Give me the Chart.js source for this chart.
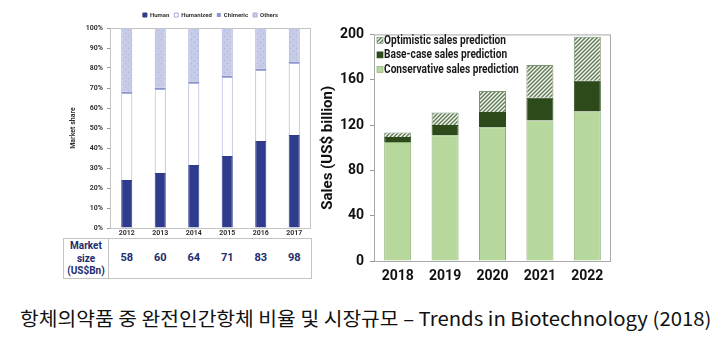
<!DOCTYPE html>
<html>
<head>
<meta charset="utf-8">
<script src="https://cdn.jsdelivr.net/npm/chart.js@4.4.1/dist/chart.umd.min.js"></script>
<style>
  body { margin: 0; background: #fff; }
  #wrap { position: relative; width: 727px; height: 350px; overflow: hidden; }
  #share { position: absolute; left: 55px; top: 5px; }
  #sales { position: absolute; left: 315px; top: 20px; }
  #tbl { position: absolute; left: 63px; top: 238px; width: 249px; height: 41px;
         border: 1px solid #c4c4c4; box-sizing: border-box; }
  #tblHead { position: absolute; left: 0; top: 0; width: 45px; height: 39px;
             border-right: 1px solid #c4c4c4; text-align: center;
             font: bold 10px Roboto, sans-serif;
             color: #1d2c6e; line-height: 12.5px; padding-top: 1px; box-sizing: border-box; }
  .val { position: absolute; top: 12px; width: 30px; margin-left: -15px; text-align: center;
         font: bold 11px Roboto, sans-serif; color: #1d2c6e; }
  #caption { position: absolute; left: 20px; top: 304px; white-space: nowrap;
             font-family: "Noto Sans CJK KR", sans-serif; font-size: 19px; color: #111;
             transform-origin: left top; }
</style>
</head>
<body>
<div id="wrap">
  <div id="tbl"><div id="tblHead">Market<br>size<br>(US$Bn)</div></div>
  <canvas id="share" width="262" height="235"></canvas>
  <canvas id="sales" width="300" height="270"></canvas>
  <div id="caption">항체의약품 중 완전인간항체 비율 및 시장규모 – Trends in Biotechnology (2018)</div>
</div>
<script>
// left chart: market share by antibody type
var shareYears = ['2012', '2013', '2014', '2015', '2016', '2017'];
var human = [24, 27.5, 31.5, 36, 43.5, 46.5];
var humanized = [43.5, 42, 41, 39.5, 35.5, 36];
var chimeric = [0.6, 0.6, 0.6, 0.6, 0.6, 0.6];
var others = [31.9, 29.9, 26.9, 23.9, 20.4, 16.9];
var marketSize = [58, 60, 64, 71, 83, 98];
var shareTicks = ['0%', '10%', '20%', '30%', '40%', '50%', '60%', '70%', '80%', '90%', '100%'];

// right chart: sales forecast (stack increments, US$ billion)
var salesYears = ['2018', '2019', '2020', '2021', '2022'];
var conservative = [105, 111, 118, 124, 132];
var baseCase = [4.5, 9, 13.5, 20, 27];
var optimistic = [4, 11, 18.5, 29, 39];

function makePattern(bg, fg, kind) {
  var n = kind === 'hatch' ? 4 : 6;
  var c = document.createElement('canvas');
  c.width = n; c.height = n;
  var x = c.getContext('2d');
  x.fillStyle = bg;
  x.fillRect(0, 0, n, n);
  x.strokeStyle = fg;
  x.fillStyle = fg;
  if (kind === 'hatch') {
    x.lineWidth = 1.4;
    x.beginPath();
    x.moveTo(-1, n + 1); x.lineTo(n + 1, -1);
    x.moveTo(-1, 1); x.lineTo(1, -1);
    x.moveTo(n - 1, n + 1); x.lineTo(n + 1, n - 1);
    x.stroke();
  } else {
    x.fillRect(1, 1, 1, 1);
    x.fillRect(4, 4, 1, 1);
  }
  return x.createPattern(c, 'repeat');
}

var frame = {
  id: 'frame',
  afterDraw: function (chart, args, opts) {
    var a = chart.chartArea, ctx = chart.ctx;
    ctx.save();
    ctx.strokeStyle = opts.color;
    ctx.lineWidth = 1;
    ctx.strokeRect(a.left + 0.5, a.top + 0.5, a.right - a.left - 1, a.bottom - a.top);
    ctx.restore();
  }
};

// legend drawn inside the plot area, top-left, latest series first
var innerLegend = {
  id: 'innerLegend',
  afterDraw: function (chart, args, opts) {
    if (!opts.font) return;
    var ctx = chart.ctx, a = chart.chartArea;
    var items = chart.data.datasets.slice().reverse();
    ctx.save();
    ctx.font = opts.font;
    var sx = opts.textWidth / ctx.measureText(items[0].label).width;
    items.forEach(function (ds, i) {
      var y = a.top + opts.top + i * opts.step;
      ctx.fillStyle = ds.backgroundColor;
      ctx.fillRect(a.left + 3, y - 3, 6, 6);
      if (ds.borderWidth) {
        ctx.strokeStyle = ds.borderColor;
        ctx.lineWidth = 0.7;
        ctx.strokeRect(a.left + 3, y - 3, 6, 6);
      }
      ctx.save();
      ctx.translate(a.left + 10, y);
      ctx.scale(sx, 1);
      ctx.fillStyle = '#1a1a1a';
      ctx.textBaseline = 'middle';
      ctx.fillText(ds.label, 0, 0);
      ctx.restore();
    });
    ctx.restore();
  }
};

var smallFont = { family: 'Roboto, sans-serif', size: 7, weight: 'bold' };
var othersFill = makePattern('#c6cce8', '#aab2db', 'dots');

var shareChart = new Chart(document.getElementById('share'), {
  type: 'bar',
  data: {
    labels: shareYears,
    datasets: [
      { label: 'Human', data: human, backgroundColor: '#2f3c8e', borderColor: '#2f3c8e', borderWidth: 1 },
      { label: 'Humanized', data: humanized, backgroundColor: '#ffffff', borderColor: '#a9afdc', borderWidth: 1 },
      { label: 'Chimeric', data: chimeric, backgroundColor: '#8d96cc', borderColor: '#8d96cc', borderWidth: 0 },
      { label: 'Others', data: others, backgroundColor: othersFill, borderColor: '#a9afdc', borderWidth: 1 }
    ]
  },
  options: {
    responsive: false,
    animation: false,
    datasets: { bar: { barPercentage: 0.33, categoryPercentage: 1 } },
    layout: { padding: { right: 6, top: 2 } },
    plugins: {
      legend: {
        position: 'top',
        fullSize: false,
        labels: { font: { family: 'Roboto, sans-serif', size: 6, weight: 'bold' }, color: '#333', boxWidth: 4, boxHeight: 4, padding: 5 }
      },
      tooltip: { enabled: false },
      frame: { color: '#c4c4c4' }
    },
    scales: {
      x: {
        stacked: true,
        grid: { display: false, drawTicks: false },
        border: { display: false },
        ticks: { font: smallFont, color: '#333', padding: 1, maxRotation: 0 },
        afterFit: function (s) { s.height = 12; }
      },
      y: {
        stacked: true,
        min: 0, max: 100,
        grid: { display: true, drawOnChartArea: false, tickLength: 3, color: '#999' },
        border: { display: false },
        ticks: {
          stepSize: 10, font: smallFont, color: '#333', padding: 4,
          callback: function (v) { return shareTicks[v / 10]; }
        },
        title: { display: true, text: 'Market share', font: smallFont, color: '#333', padding: { top: 14, bottom: 0 } },
        afterFit: function (s) { s.width = 55; }
      }
    }
  },
  plugins: [frame]
});

// market size row under the left chart, placed with the chart's own x scale
var tbl = document.getElementById('tbl');
marketSize.forEach(function (v, i) {
  var d = document.createElement('div');
  d.className = 'val';
  d.textContent = v;
  d.style.left = (55 + shareChart.scales.x.getPixelForValue(i) - 63 - 1) + 'px';
  tbl.appendChild(d);
});

var bigFont = { family: 'Roboto, sans-serif', size: 14, weight: 'bold' };
var optFill = makePattern('#f4f6f1', '#5f7a52', 'hatch');

new Chart(document.getElementById('sales'), {
  type: 'bar',
  data: {
    labels: salesYears,
    datasets: [
      { label: 'Conservative sales prediction', data: conservative, backgroundColor: '#b7d89c', borderColor: '#8fae78', borderWidth: 1 },
      { label: 'Base-case sales prediction', data: baseCase, backgroundColor: '#2c4a1a', borderColor: '#2c4a1a', borderWidth: 1 },
      { label: 'Optimistic sales prediction', data: optimistic, backgroundColor: optFill, borderColor: '#7d9272', borderWidth: 1 }
    ]
  },
  options: {
    responsive: false,
    animation: false,
    datasets: { bar: { barPercentage: 0.57, categoryPercentage: 1 } },
    layout: { padding: { right: 4, top: 14 } },
    plugins: {
      legend: { display: false },
      tooltip: { enabled: false },
      frame: { color: '#a8a8a8' },
      innerLegend: { font: 'bold 13px Roboto, sans-serif', textWidth: 122, top: 6, step: 14.5 }
    },
    scales: {
      x: {
        stacked: true,
        grid: { display: false, drawTicks: false },
        border: { display: false },
        ticks: { font: bigFont, color: '#111', padding: 7, maxRotation: 0 },
        afterFit: function (s) { s.height = 29; }
      },
      y: {
        stacked: true,
        min: 0, max: 200,
        grid: { display: true, drawOnChartArea: false, tickLength: 4, color: '#999' },
        border: { display: false },
        ticks: { stepSize: 40, font: bigFont, color: '#111', padding: 6 },
        title: {
          display: true, text: 'Sales (US$ billion)', color: '#111',
          font: { family: 'Roboto, sans-serif', size: 15, weight: 'bold' },
          padding: { top: 4, bottom: 0 }
        },
        afterFit: function (s) { s.width = 59; }
      }
    }
  },
  plugins: [frame, innerLegend]
});

// squeeze the caption to the reference width
var cap = document.getElementById('caption');
cap.style.transform = 'scaleX(' + (692 / cap.offsetWidth) + ')';
</script>
</body>
</html>
